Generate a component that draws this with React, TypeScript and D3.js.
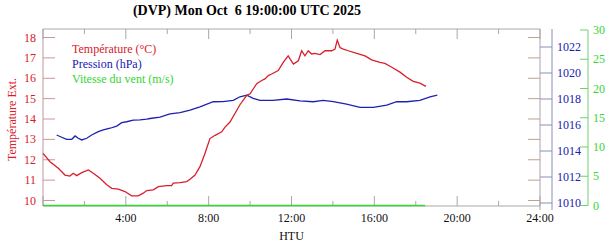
import React from "react";
import * as d3 from "d3";

const title = "(DVP) Mon Oct  6 19:00:00 UTC 2025";

const tempHours = [0,0.34,0.74,1.06,1.3,1.46,1.63,1.87,2.19,2.43,2.75,3.08,3.32,3.64,3.96,4.28,4.6,4.84,5.01,5.33,5.57,5.97,6.21,6.29,6.62,6.94,7.1,7.34,7.58,7.82,8.06,8.31,8.63,8.79,9.03,9.51,9.84,10.0,10.32,10.56,10.72,10.88,11.04,11.36,11.6,11.84,12.09,12.33,12.49,12.65,12.81,12.97,13.13,13.38,13.62,13.94,14.1,14.21,14.34,14.5,14.74,15.15,15.55,15.87,16.27,16.51,16.84,17.24,17.56,17.88,18.2,18.49];
const tempValues = [12.31,11.9,11.58,11.25,11.2,11.34,11.22,11.37,11.5,11.34,11.09,10.77,10.6,10.56,10.44,10.23,10.23,10.36,10.49,10.52,10.68,10.73,10.73,10.85,10.88,10.93,11.04,11.25,11.66,12.31,13.04,13.2,13.37,13.6,13.85,14.7,15.16,15.24,15.73,15.89,15.97,16.13,16.21,16.38,16.78,17.1,16.7,16.86,17.35,17.1,17.35,17.19,17.22,17.16,17.35,17.35,17.43,17.87,17.51,17.43,17.35,17.22,17.1,16.9,16.78,16.73,16.54,16.3,16.05,15.85,15.76,15.6];

const presHours = [0.66,0.9,1.14,1.39,1.55,1.7,1.87,2.11,2.35,2.67,2.91,3.24,3.56,3.8,4.04,4.36,4.68,5.01,5.17,5.65,6.13,6.62,7.1,7.58,8.22,8.69,9.19,9.51,9.84,10.15,10.48,11.1,11.77,12.41,13.05,13.53,14.02,14.66,15.31,15.95,16.6,17.08,17.56,18.2,18.69,19.04];
const presValues = [1015.23,1015.06,1014.9,1014.9,1015.16,1014.98,1014.85,1014.98,1015.23,1015.49,1015.62,1015.75,1015.92,1016.18,1016.25,1016.38,1016.4,1016.45,1016.5,1016.6,1016.85,1016.95,1017.15,1017.4,1017.79,1017.8,1017.9,1018.17,1018.3,1018.05,1017.9,1017.9,1018,1017.86,1017.79,1017.9,1017.79,1017.6,1017.36,1017.36,1017.53,1017.79,1017.79,1017.9,1018.17,1018.3];

const windHours = [0, 3, 6, 9, 12, 15, 18.45];
const windValues = [0, 0, 0, 0, 0, 0, 0];

const tempTicks = [10, 11, 12, 13, 14, 15, 16, 17, 18];
const presTicks = [1010, 1012, 1014, 1016, 1018, 1020, 1022];
const windTicks = [0, 5, 10, 15, 20, 25, 30];
const hourTicks = [0, 2, 4, 6, 8, 10, 12, 14, 16, 18, 20, 22, 24];
const hourLabels = ["", "", "4:00", "", "8:00", "", "12:00", "", "16:00", "", "20:00", "", "24:00"];

const legendLabels = ["Température (°C)", "Pression (hPa)", "Vitesse du vent (m/s)"];

const RED = "#d8202c";
const BLUE = "#2020b0";
const GREEN = "#33d633";

export default function App() {
  const L = 43, R = 540, T = 29, B = 206;
  const x = d3.scaleLinear().domain([0, 24]).range([L, R]);
  const yT = d3.scaleLinear().domain([10, 18]).range([200.5, 37.5]);
  const yP = d3.scaleLinear().domain([1010, 1022]).range([203, 47]);
  const yW = d3.scaleLinear().domain([0, 30]).range([205.5, 30]);

  const tempLine = d3.line<number>().x((_, i) => x(tempHours[i])).y((d) => yT(d))(tempValues) || "";
  const presLine = d3.line<number>().x((_, i) => x(presHours[i])).y((d) => yP(d))(presValues) || "";
  const windLine = d3.line<number>().x((_, i) => x(windHours[i])).y((d) => yW(d))(windValues) || "";

  const font = "'Liberation Serif', 'Times New Roman', serif";
  const PX = 552; // pressure axis
  const WX = 588; // wind axis

  return (
    <svg width={610} height={242} style={{ position: "absolute", left: 0, top: 0, background: "#fff" }} fontFamily={font}>
      <rect x={0} y={0} width={610} height={242} fill="#fff" />
      <text x={247} y={15} textAnchor="middle" fontWeight="bold" fontSize={14} style={{ whiteSpace: "pre" }}>{title}</text>

      {/* frame */}
      <line x1={L} x2={R} y1={T} y2={T} stroke="#a8a8a8" />
      <line x1={L} x2={R} y1={B} y2={B} stroke="#a8a8a8" />
      <line x1={R} x2={R} y1={T} y2={B + 4} stroke="#b0a0b0" />
      <line x1={L} x2={L} y1={T} y2={B} stroke="#c098a0" />

      {/* x ticks */}
      {hourTicks.map((h, i) => {
        const len = h % 4 === 0 ? 10 : 5;
        return (
          <g key={"h" + i}>
            <line x1={x(h)} x2={x(h)} y1={T} y2={T + len} stroke="#a8a8a8" />
            <line x1={x(h)} x2={x(h)} y1={B} y2={B - len} stroke="#a8a8a8" />
            {hourLabels[i] && (
              <text x={x(h)} y={222} textAnchor="middle" fontSize={12} fill="#111">{hourLabels[i]}</text>
            )}
          </g>
        );
      })}
      <text x={(L + R) / 2} y={240} textAnchor="middle" fontSize={12} fill="#111">HTU</text>

      {/* temperature axis */}
      {tempTicks.map((t) => (
        <g key={"t" + t}>
          <line x1={L} x2={L + 12} y1={yT(t)} y2={yT(t)} stroke="#c898a0" />
          <line x1={R - 12} x2={R} y1={yT(t)} y2={yT(t)} stroke="#c0a090" />
          <text x={36} y={yT(t) + 4} textAnchor="end" fontSize={12} fill={RED}>{t}</text>
        </g>
      ))}
      <text transform={`translate(16,${(T + B) / 2 + 2}) rotate(-90)`} textAnchor="middle" fontSize={12} fill={RED}>Température Ext.</text>

      {/* pressure axis */}
      <line x1={PX} x2={PX} y1={T} y2={B + 4} stroke="#8c8cc0" />
      {presTicks.map((p) => (
        <g key={"p" + p}>
          <line x1={R} x2={PX} y1={yP(p)} y2={yP(p)} stroke="#8c8cc0" />
          <text x={557} y={yP(p) + 4} fontSize={12} fill={BLUE}>{p}</text>
        </g>
      ))}

      {/* wind axis */}
      <line x1={WX} x2={WX} y1={yW(30)} y2={yW(0)} stroke="#70d070" />
      {windTicks.map((w) => (
        <g key={"w" + w}>
          <line x1={WX - 8} x2={WX} y1={yW(w)} y2={yW(w)} stroke="#70d070" />
          <text x={593} y={yW(w) + 4} fontSize={12} fill={GREEN}>{w}</text>
        </g>
      ))}

      {/* data */}
      <path d={windLine} fill="none" stroke={GREEN} strokeWidth={1.4} />
      <path d={presLine} fill="none" stroke={BLUE} strokeWidth={1.3} />
      <path d={tempLine} fill="none" stroke={RED} strokeWidth={1.3} />

      {/* legend */}
      <text x={72} y={53} fontSize={12} fill={RED}>{legendLabels[0]}</text>
      <text x={72} y={68} fontSize={12} fill={BLUE}>{legendLabels[1]}</text>
      <text x={72} y={83} fontSize={12} fill={GREEN}>{legendLabels[2]}</text>
    </svg>
  );
}
